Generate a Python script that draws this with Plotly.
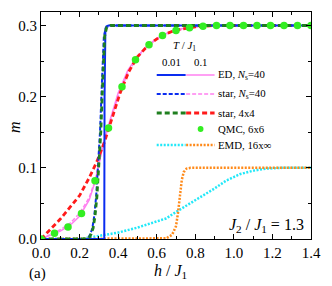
import plotly.graph_objects as go

# ---- data ----
ed_T001_h = [0.0, 0.328, 0.3295, 0.331, 0.334, 0.34, 0.35, 1.4]
ed_T001_m = [0.0, 0.0, 0.2, 0.285, 0.295, 0.299, 0.3, 0.3]

ed_T01_h = [0.0, 0.05, 0.1, 0.15, 0.2, 0.25, 0.28, 0.3, 0.32, 0.35, 0.4, 0.45, 0.5, 0.55, 0.6, 0.65, 0.7, 0.8, 0.9, 1.4]
ed_T01_m = [0.0, 0.005, 0.011, 0.019, 0.032, 0.055, 0.08, 0.105, 0.13, 0.16, 0.205, 0.237, 0.257, 0.271, 0.282, 0.289, 0.294, 0.299, 0.3, 0.3]

starN_T001_h = [0.0, 0.236, 0.246, 0.256, 0.266, 0.276, 0.286, 0.296, 0.306, 0.316, 0.321, 0.326, 0.336, 0.356, 1.4]
starN_T001_m = [0.0, 0.0, 0.002, 0.007, 0.015, 0.032, 0.06, 0.105, 0.15, 0.22, 0.26, 0.285, 0.297, 0.3, 0.3]

starN_T01_h = [0.0, 0.05, 0.1, 0.15, 0.2, 0.25, 0.28, 0.3, 0.32, 0.35, 0.4, 0.45, 0.5, 0.55, 0.6, 0.65, 0.7, 0.8, 0.9, 1.4]
starN_T01_m = [0.0, 0.006, 0.013, 0.022, 0.036, 0.058, 0.082, 0.105, 0.13, 0.158, 0.2, 0.233, 0.255, 0.27, 0.281, 0.288, 0.293, 0.298, 0.3, 0.3]

star44_T001_h = [0.0, 0.24, 0.25, 0.26, 0.27, 0.28, 0.29, 0.30, 0.31, 0.32, 0.325, 0.33, 0.34, 0.36, 1.4]
star44_T001_m = [0.0, 0.0, 0.002, 0.007, 0.015, 0.032, 0.06, 0.105, 0.15, 0.22, 0.26, 0.285, 0.297, 0.3, 0.3]

star44_T01_h = [0.0, 0.01, 0.05, 0.1, 0.15, 0.2, 0.25, 0.29, 0.33, 0.37, 0.41, 0.455, 0.5, 0.555, 0.62, 0.69, 0.8, 0.9, 1.4]
star44_T01_m = [0.0, 0.003, 0.014, 0.028, 0.044, 0.061, 0.086, 0.109, 0.137, 0.172, 0.205, 0.235, 0.256, 0.272, 0.285, 0.293, 0.298, 0.3, 0.3]

qmc_h = [0.0, 0.07, 0.14, 0.21, 0.28, 0.35, 0.42, 0.49, 0.56, 0.63, 0.70, 0.77, 0.84, 0.91, 0.98, 1.05, 1.12, 1.19, 1.26, 1.33, 1.40]
qmc_m = [0.0, 0.008, 0.017, 0.036, 0.082, 0.156, 0.214, 0.252, 0.273, 0.286, 0.293, 0.297, 0.299, 0.3, 0.3, 0.3, 0.3, 0.3, 0.3, 0.3, 0.3]

emd_T001_h = [0.0, 0.2, 0.25, 0.3, 0.4, 0.5, 0.6, 0.65, 0.7, 0.76, 0.83, 0.9, 0.96, 1.03, 1.1, 1.17, 1.25, 1.4]
emd_T001_m = [0.0, 0.0, 0.002, 0.004, 0.009, 0.016, 0.024, 0.029, 0.038, 0.048, 0.059, 0.071, 0.082, 0.091, 0.096, 0.099, 0.1, 0.1]

emd_T01_h = [0.0, 0.6, 0.65, 0.68, 0.70, 0.71, 0.72, 0.73, 0.74, 0.755, 0.775, 1.4]
emd_T01_m = [0.0, 0.0, 0.001, 0.006, 0.018, 0.036, 0.06, 0.083, 0.094, 0.099, 0.1, 0.1]

x_ticks = [0.0, 0.2, 0.4, 0.6, 0.8, 1.0, 1.2, 1.4]
x_tick_labels = ["0.0", "0.2", "0.4", "0.6", "0.8", "1.0", "1.2", "1.4"]
y_ticks = [0.0, 0.1, 0.2, 0.3]
y_tick_labels = ["0.0", "0.1", "0.2", "0.3"]

legend_labels = ["ED, <i>N</i><sub>s</sub>=40", "star, <i>N</i><sub>s</sub>=40", "star, 4x4", "QMC, 6x6", "EMD, 16x\u221e"]

# ---- colours / styles ----
BLUE = "#0a2cf0"
PINK = "#ff80f0"
DGREEN = "#1f7f1f"
RED = "#ff1a1a"
LIME = "#33ee22"
CYAN = "#22e8f8"
ORANGE = "#ff8a1a"

S_ED001 = (BLUE, 2, "solid")
S_ED01 = (PINK, 1.5, "solid")
S_SN001 = (BLUE, 2, "4px,2px")
S_SN01 = (PINK, 1.5, "4px,2px")
S_S44001 = (DGREEN, 2.8, "5px,3px")
S_S4401 = (RED, 2.8, "5px,3px")
S_EMD001 = (CYAN, 2.5, "2px,1.5px")
S_EMD01 = (ORANGE, 2.5, "2px,1.5px")

FONT = "'Liberation Serif', 'Times New Roman', Times, serif"

fig = go.Figure()

def line(x, y, st):
    fig.add_trace(go.Scatter(x=x, y=y, mode="lines", line=dict(color=st[0], width=st[1], dash=st[2]),
                             showlegend=False, hoverinfo="skip"))

line(emd_T001_h, emd_T001_m, S_EMD001)
line(emd_T01_h, emd_T01_m, S_EMD01)
line(ed_T01_h, ed_T01_m, S_ED01)
line(starN_T01_h, starN_T01_m, S_SN01)
line(star44_T01_h, star44_T01_m, S_S4401)
line(ed_T001_h, ed_T001_m, S_ED001)
line(starN_T001_h, starN_T001_m, S_SN001)
line(star44_T001_h, star44_T001_m, S_S44001)
fig.add_trace(go.Scatter(x=qmc_h, y=qmc_m, mode="markers", marker=dict(color=LIME, size=7.5),
                         showlegend=False, hoverinfo="skip"))

# ---- custom legend (paper coords) ----
L, R, T, B = 41, 321, 12, 239
def px(xp):
    return (xp - L) / (R - L)
def py(yp):
    return (B - yp) / (B - T)

shapes = []
annos = []
rows = [
    (75, S_ED001, S_ED01),
    (94, S_SN001, S_SN01),
    (113, S_S44001, S_S4401),
    (129, None, None),
    (145, S_EMD001, S_EMD01),
]
LFS = 10.8
for (yy, a, b), lab in zip(rows, legend_labels):
    if a is not None:
        shapes.append(dict(type="line", xref="paper", yref="paper", x0=px(161), x1=px(191), y0=py(yy), y1=py(yy),
                           line=dict(color=a[0], width=a[1], dash=a[2])))
        shapes.append(dict(type="line", xref="paper", yref="paper", x0=px(191.5), x1=px(221), y0=py(yy), y1=py(yy),
                           line=dict(color=b[0], width=b[1], dash=b[2])))
    else:
        shapes.append(dict(type="circle", xref="paper", yref="paper", x0=px(203.5), x1=px(209.5), y0=py(yy - 3), y1=py(yy + 3),
                           fillcolor=LIME, line=dict(color=LIME, width=0)))
    annos.append(dict(text=lab, xref="paper", yref="paper", x=px(222), y=py(yy), xanchor="left", yanchor="middle",
                      showarrow=False, font=dict(family=FONT, size=LFS, color="black")))

annos.append(dict(text="<i>T</i> / <i>J</i><sub>1</sub>", xref="paper", yref="paper", x=px(190), y=py(46),
                  xanchor="center", yanchor="middle", showarrow=False, font=dict(family=FONT, size=LFS, color="black")))
annos.append(dict(text="0.01", xref="paper", yref="paper", x=px(176), y=py(62), xanchor="center", yanchor="middle",
                  showarrow=False, font=dict(family=FONT, size=LFS, color="black")))
annos.append(dict(text="0.1", xref="paper", yref="paper", x=px(207), y=py(62), xanchor="center", yanchor="middle",
                  showarrow=False, font=dict(family=FONT, size=LFS, color="black")))
annos.append(dict(text="<i>J</i><sub>2</sub> / <i>J</i><sub>1</sub> = 1.3", xref="paper", yref="paper", x=px(316), y=py(225),
                  xanchor="right", yanchor="middle", showarrow=False, font=dict(family=FONT, size=16, color="black")))
annos.append(dict(text="<i>h</i> / <i>J</i><sub>1</sub>", xref="paper", yref="paper", x=px(175), y=py(271),
                  xanchor="center", yanchor="middle", showarrow=False, font=dict(family=FONT, size=16, color="black")))
annos.append(dict(text="(a)", xref="paper", yref="paper", x=px(37), y=py(273),
                  xanchor="center", yanchor="middle", showarrow=False, font=dict(family=FONT, size=15, color="black")))
annos.append(dict(text="<i>m</i>", xref="paper", yref="paper", x=px(14), y=py(127), textangle=-90,
                  xanchor="center", yanchor="middle", showarrow=False, font=dict(family=FONT, size=16, color="black")))

axis_common = dict(showgrid=False, zeroline=False, showline=True, linecolor="black", linewidth=1,
                   mirror="allticks", ticks="inside", ticklen=5, tickcolor="black", tickwidth=1,
                   tickfont=dict(family=FONT, size=15, color="black"))

fig.update_layout(
    width=332, height=286,
    margin=dict(l=L, r=332 - R, t=T, b=286 - B),
    paper_bgcolor="white", plot_bgcolor="white",
    font=dict(family=FONT, color="black"),
    shapes=shapes, annotations=annos, showlegend=False,
    xaxis=dict(range=[0, 1.4], tickvals=x_ticks, ticktext=x_tick_labels,
               minor=dict(dtick=0.1, ticks="inside", ticklen=3, tickcolor="black"), **axis_common),
    yaxis=dict(range=[0, 0.319], tickvals=y_ticks, ticktext=y_tick_labels,
               minor=dict(dtick=0.05, ticks="inside", ticklen=3, tickcolor="black"), **axis_common),
)

fig.write_html("out.html", config={"displayModeBar": False},
               post_script="document.body.style.margin='0px';")
